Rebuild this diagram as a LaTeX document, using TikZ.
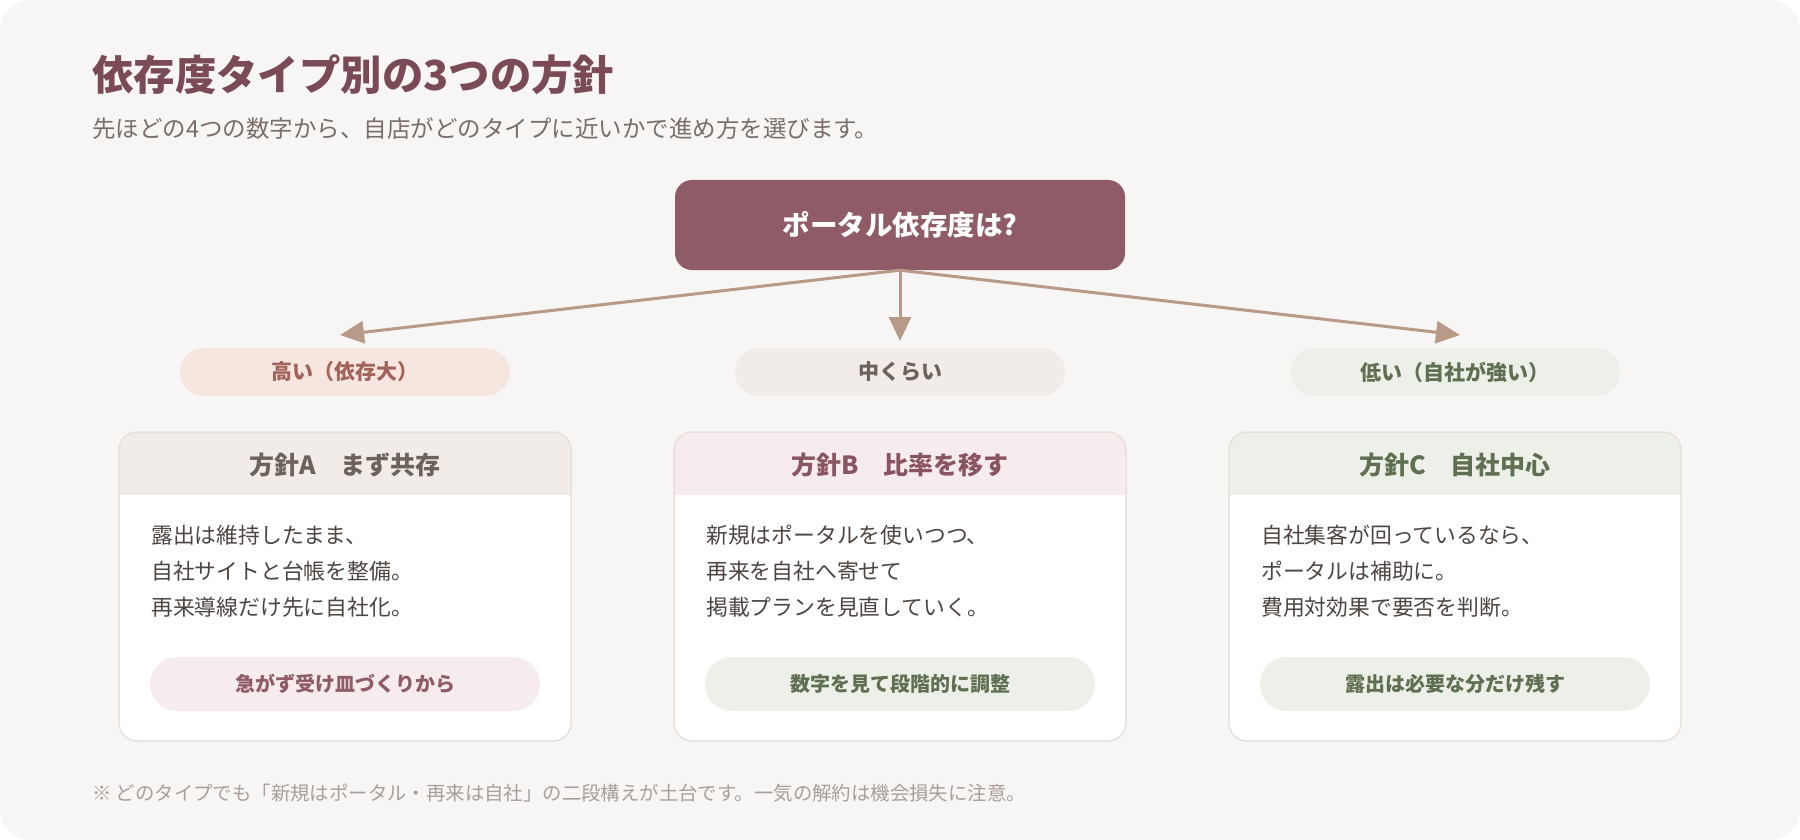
\documentclass[tikz,border=0pt]{standalone}
\usepackage{fontspec}
\setmainfont{Noto Sans CJK JP}
\usetikzlibrary{arrows.meta,calc}
\definecolor{pagebg}{HTML}{F8F6F4}
\definecolor{plum}{HTML}{7A4A57}
\definecolor{plumbox}{HTML}{8E5B66}
\definecolor{subgrey}{HTML}{7A6E68}
\definecolor{arrowc}{HTML}{B89A88}
\definecolor{peach}{HTML}{F7E6DF}
\definecolor{peachtxt}{HTML}{A0645A}
\definecolor{beige}{HTML}{F1ECE8}
\definecolor{beigetxt}{HTML}{6E625C}
\definecolor{sage}{HTML}{EDF0E8}
\definecolor{sagetxt}{HTML}{5F7052}
\definecolor{rose}{HTML}{F7ECED}
\definecolor{rosetxt}{HTML}{8A5563}
\definecolor{cardline}{HTML}{E8E0DA}
\definecolor{bodytxt}{HTML}{4D4541}
\definecolor{notetxt}{HTML}{A89F9A}
\begin{document}
\begin{tikzpicture}[x=1pt,y=-1pt,
  topbox/.style={fill=plumbox, rounded corners=17pt, minimum width=450pt, minimum height=90pt, inner sep=0, text=white, font=\fontsize{27.5}{32}\selectfont\bfseries},
  levelpill/.style={rounded corners=24pt, minimum width=330pt, minimum height=48pt, inner sep=0, font=\fontsize{21}{25}\selectfont\bfseries},
  card/.style={draw=cardline, line width=1.5pt, fill=white, rounded corners=18pt, minimum width=452pt, minimum height=309pt, inner sep=0},
  hfill/.style={path picture={\fill[#1, sharp corners] (path picture bounding box.north west) rectangle ([yshift=-63pt]path picture bounding box.north east);}},
  hdrtext/.style={inner sep=0, font=\fontsize{25}{29}\selectfont\bfseries},
  bodyline/.style={anchor=west, inner sep=0, text=bodytxt, font=\fontsize{21.8}{26}\selectfont},
  notepill/.style={rounded corners=27pt, minimum width=390pt, minimum height=54pt, inner sep=0, font=\fontsize{20}{24}\selectfont\bfseries},
  arr/.style={draw=arrowc, line width=3pt, -{Triangle[length=24pt,width=22pt]}}
]
\useasboundingbox (0,0) rectangle (1800,840);
\fill[pagebg, rounded corners=30pt] (0,0) rectangle (1800,840);

% title and subtitle
\node[anchor=west, inner sep=0, text=plum, font=\fontsize{41.4}{47}\selectfont\bfseries] (title) at (92,75) {依存度タイプ別の3つの方針};
\node[anchor=west, inner sep=0, text=subgrey, font=\fontsize{23.5}{28}\selectfont] (subtitle) at (92,129) {先ほどの4つの数字から、自店がどのタイプに近いかで進め方を選びます。};

% top question
\node[topbox] (top) at (900,225) {ポータル依存度は?};

% level pills
\node[levelpill, fill=peach, text=peachtxt] (lvA) at (345,372) {高い（依存大）};
\node[levelpill, fill=beige, text=beigetxt] (lvB) at (900,372) {中くらい};
\node[levelpill, fill=sage, text=sagetxt] (lvC) at (1455,372) {低い（自社が強い）};

% arrows
\coordinate (tA) at (340,335);
\coordinate (tB) at (900,341);
\coordinate (tC) at (1460,335);
\draw[arr] (top.south) -- (tA);
\draw[arr] (top.south) -- (tB);
\draw[arr] (top.south) -- (tC);

% cards
\node[card, hfill=beige] (cardA) at (345,586.5) {};
\node[card, hfill=rose] (cardB) at (900,586.5) {};
\node[card, hfill=sage] (cardC) at (1455,586.5) {};

\node[hdrtext, text=beigetxt] (hA) at (345,465) {方針A　まず共存};
\node[hdrtext, text=rosetxt] (hB) at (900,465) {方針B　比率を移す};
\node[hdrtext, text=sagetxt] (hC) at (1455,465) {方針C　自社中心};

\node[bodyline] (a1) at (151,535) {露出は維持したまま、};
\node[bodyline] (a2) at (151,571) {自社サイトと台帳を整備。};
\node[bodyline] (a3) at (151,607) {再来導線だけ先に自社化。};

\node[bodyline] (b1) at (706,535) {新規はポータルを使いつつ、};
\node[bodyline] (b2) at (706,571) {再来を自社へ寄せて};
\node[bodyline] (b3) at (706,607) {掲載プランを見直していく。};

\node[bodyline] (c1) at (1261,535) {自社集客が回っているなら、};
\node[bodyline] (c2) at (1261,571) {ポータルは補助に。};
\node[bodyline] (c3) at (1261,607) {費用対効果で要否を判断。};

\node[notepill, fill=rose, text=plumbox] (pA) at (345,684) {急がず受け皿づくりから};
\node[notepill, fill=sage, text=sagetxt] (pB) at (900,684) {数字を見て段階的に調整};
\node[notepill, fill=sage, text=sagetxt] (pC) at (1455,684) {露出は必要な分だけ残す};

% footnote
\node[anchor=west, inner sep=0, text=notetxt, font=\fontsize{19.4}{23}\selectfont] (note) at (92,793) {※ どのタイプでも「新規はポータル・再来は自社」の二段構えが土台です。一気の解約は機会損失に注意。};
\end{tikzpicture}
\end{document}
